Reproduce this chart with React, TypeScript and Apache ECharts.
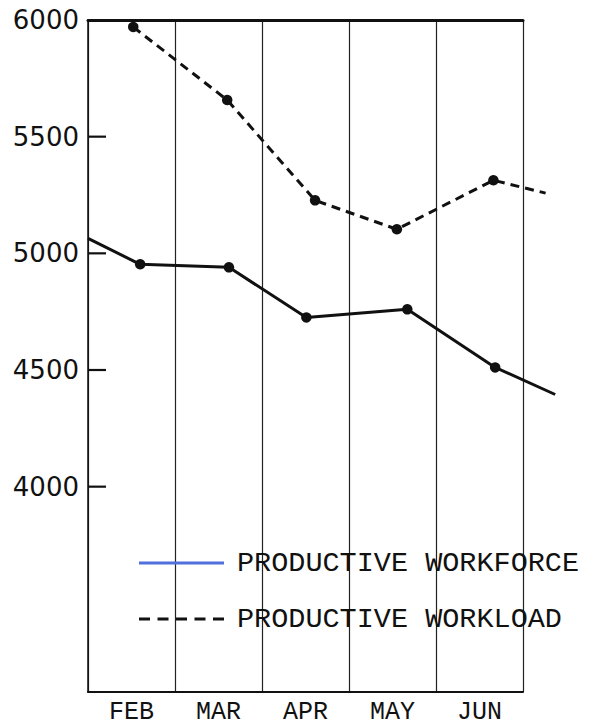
import React, { useEffect, useRef } from "react";
import * as echarts from "echarts";

const months = ["FEB", "MAR", "APR", "MAY", "JUN"];
const yTicks = [4000, 4500, 5000, 5500, 6000];
const yMin = 3120;
const yMax = 6000;

// x positions in month units (0 = start of FEB band)
const workforceX = [0, 0.6, 1.62, 2.51, 3.67, 4.68, 5.37];
const workforceY = [5064, 4953, 4940, 4725, 4760, 4511, 4395];
const workforceMarked = [false, true, true, true, true, true, false];

const workloadX = [0.52, 1.6, 2.61, 3.55, 4.66, 5.26];
const workloadY = [5970, 5657, 5227, 5103, 5313, 5258];
const workloadMarked = [true, true, true, true, true, false];

const seriesNames = ["PRODUCTIVE WORKFORCE", "PRODUCTIVE WORKLOAD"];

function buildData(xs: number[], ys: number[], marked: boolean[]) {
  return xs.map((x, i) => ({
    value: [x, ys[i]],
    symbol: marked[i] ? "circle" : "none",
    symbolSize: 10.5,
  }));
}

const solidIcon = "path://M0 0H85V3H0Z";
const dashedIcon =
  "path://M0 0H11V3H0Z M18.5 0H29.5V3H18.5Z M37 0H48V3H37Z M55.5 0H66.5V3H55.5Z M74 0H85V3H74Z";

export default function App() {
  const ref = useRef<HTMLDivElement>(null);
  useEffect(() => {
    if (!ref.current) return;
    const chart = echarts.init(ref.current, null, { renderer: "svg" });
    const mono = "'Liberation Mono', 'DejaVu Sans Mono', monospace";
    const left = 88;
    const plotW = 435;
    const top = 20;
    const bottom = 34;
    const extMax = 5.4;
    const extRight = 594 - left - (plotW * extMax) / 5;
    const tickLen = (18 / plotW) * 5; // 18px expressed in month units

    // short inward tick marks drawn as tiny line series on the data axes
    const tickSeries = yTicks.map((v) => ({
      name: seriesNames[0],
      type: "line",
      xAxisIndex: 1,
      yAxisIndex: 1,
      symbol: "none",
      silent: true,
      z: 5,
      lineStyle: { color: "#111", width: 2.2, type: "solid" },
      data: [
        [0, v],
        [tickLen, v],
      ],
    }));

    chart.setOption({
      animation: false,
      backgroundColor: "#ffffff",
      grid: [
        { left, right: 594 - left - plotW, top, bottom, containLabel: false },
        { left, right: extRight, top, bottom, containLabel: false },
      ],
      legend: {
        orient: "vertical",
        left: 134,
        top: 543,
        itemWidth: 85,
        itemHeight: 3,
        itemGap: 26,
        textStyle: { fontFamily: mono, fontSize: 28.5, color: "#111", lineHeight: 30, padding: [0, 0, 0, 8] },
        data: [
          { name: seriesNames[0], icon: solidIcon },
          { name: seriesNames[1], icon: dashedIcon },
        ],
      },
      xAxis: [
        {
          type: "category",
          gridIndex: 0,
          data: months,
          boundaryGap: true,
          position: "bottom",
          axisLine: { show: true, lineStyle: { color: "#111", width: 2 } },
          axisTick: { show: false },
          axisLabel: { fontFamily: mono, fontSize: 25, color: "#111", margin: 8 },
          splitLine: { show: true, lineStyle: { color: "#222", width: 1.2 } },
        },
        {
          type: "value",
          gridIndex: 1,
          min: 0,
          max: extMax,
          show: false,
        },
        {
          type: "category",
          gridIndex: 0,
          data: months,
          position: "top",
          axisLine: { show: true, lineStyle: { color: "#111", width: 3 } },
          axisTick: { show: false },
          axisLabel: { show: false },
          splitLine: { show: false },
        },
      ],
      yAxis: [
        {
          type: "value",
          gridIndex: 0,
          min: yMin,
          max: yMax,
          axisLine: { show: true, lineStyle: { color: "#111", width: 1.5 } },
          axisTick: { show: false },
          axisLabel: {
            fontFamily: "'DejaVu Sans', sans-serif",
            fontSize: 26,
            color: "#111",
            margin: 9,
            customValues: yTicks,
            formatter: (v: number) => String(v),
          },
          splitLine: { show: false },
        },
        {
          type: "value",
          gridIndex: 1,
          min: yMin,
          max: yMax,
          show: false,
        },
      ],
      series: [
        ...tickSeries,
        {
          name: seriesNames[0],
          type: "line",
          xAxisIndex: 1,
          yAxisIndex: 1,
          symbol: "none",
          itemStyle: { color: "#111" },
          lineStyle: { color: "#111", width: 3, type: "solid" },
          data: buildData(workforceX, workforceY, workforceMarked),
        },
        {
          name: seriesNames[1],
          type: "line",
          xAxisIndex: 1,
          yAxisIndex: 1,
          symbol: "none",
          itemStyle: { color: "#111" },
          lineStyle: { color: "#111", width: 3, type: [9, 6] },
          data: buildData(workloadX, workloadY, workloadMarked),
        },
      ],
    });
    return () => chart.dispose();
  }, []);
  return <div ref={ref} style={{ width: 594, height: 726, position: "absolute", left: 0, top: 0 }} />;
}
